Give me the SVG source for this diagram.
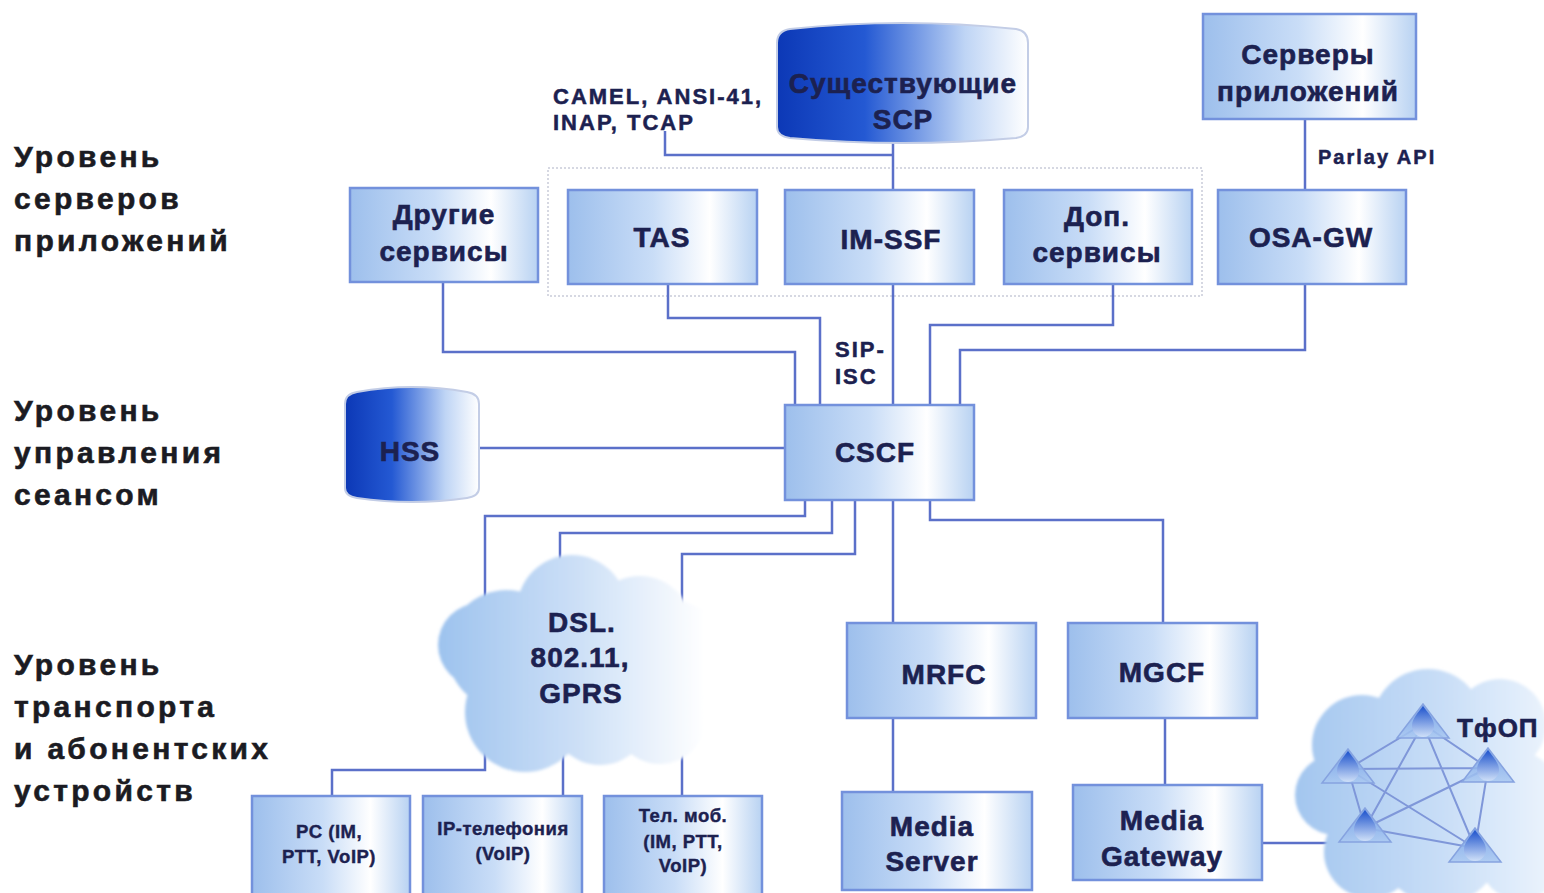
<svg xmlns="http://www.w3.org/2000/svg" xmlns:xlink="http://www.w3.org/1999/xlink" width="1544" height="893" viewBox="0 0 1544 893">
  <style>
    .lvl { font-family: "Liberation Sans", Arial, sans-serif; font-weight: bold; font-size: 30px; letter-spacing: 3.3px; fill: #1b1b22; stroke: #1b1b22; stroke-width: 0.6px; }
    .t { font-family: "Liberation Sans", Arial, sans-serif; font-weight: bold; font-size: 28px; letter-spacing: 1px; fill: #1c2150; stroke: #1c2150; stroke-width: 0.6px; text-anchor: middle; }
    .ts { font-family: "Liberation Sans", Arial, sans-serif; font-weight: bold; font-size: 18.5px; letter-spacing: 0.5px; fill: #1c2150; stroke: #1c2150; stroke-width: 0.4px; text-anchor: middle; }
    .lab { font-family: "Liberation Sans", Arial, sans-serif; font-weight: bold; font-size: 22px; letter-spacing: 2px; fill: #1c2150; stroke: #1c2150; stroke-width: 0.5px; }
    .box { fill: url(#boxGrad); stroke: #7391dc; stroke-width: 2.5; }
    .cyl { fill: url(#cylGrad); stroke: #c3cde6; stroke-width: 2; }
    .wire { fill: none; stroke: #5b70c9; stroke-width: 2.5; }
    .mesh { fill: none; stroke: #7f97d9; stroke-width: 2; }
    .group { fill: none; stroke: #c9ccd9; stroke-width: 1.5; stroke-dasharray: 2 2; }
  </style>
  <defs>
    <linearGradient id="boxGrad" x1="0" y1="0" x2="1" y2="0">
      <stop offset="0" stop-color="#9dbfec"/>
      <stop offset="0.45" stop-color="#c9ddf7"/>
      <stop offset="0.75" stop-color="#ffffff"/>
      <stop offset="1" stop-color="#b8d2f2"/>
    </linearGradient>
    <linearGradient id="cylGrad" x1="0" y1="0" x2="1" y2="0">
      <stop offset="0" stop-color="#0c38b6"/>
      <stop offset="0.35" stop-color="#2459d3"/>
      <stop offset="0.75" stop-color="#bfd5f5"/>
      <stop offset="1" stop-color="#ffffff"/>
    </linearGradient>
    <linearGradient id="cloudGrad" gradientUnits="userSpaceOnUse" x1="435" y1="0" x2="735" y2="0">
      <stop offset="0" stop-color="#9cc2ee"/>
      <stop offset="0.5" stop-color="#cfe1f7"/>
      <stop offset="0.9" stop-color="#ffffff"/>
    </linearGradient>
    <linearGradient id="pstnGrad" gradientUnits="userSpaceOnUse" x1="1295" y1="0" x2="1544" y2="0">
      <stop offset="0" stop-color="#a3c6ef"/>
      <stop offset="0.6" stop-color="#c9def7"/>
      <stop offset="1" stop-color="#e9f2fc"/>
    </linearGradient>
    <linearGradient id="triGrad" x1="0" y1="0" x2="0" y2="1">
      <stop offset="0" stop-color="#6f9be6"/>
      <stop offset="1" stop-color="#a9c8f1"/>
    </linearGradient>
    <linearGradient id="dropGrad" x1="0" y1="0" x2="0" y2="1">
      <stop offset="0" stop-color="#1d52cc"/>
      <stop offset="1" stop-color="#cfe0f8"/>
    </linearGradient>
    <filter id="soft" x="-10%" y="-10%" width="120%" height="120%">
      <feGaussianBlur stdDeviation="1.5"/>
    </filter>
    <!-- exchange node used inside the PSTN cloud -->
    <g id="exch">
      <polygon points="0,-34 -26,0 26,0" fill="url(#triGrad)" fill-opacity="0.85" stroke="#86a3e0" stroke-width="1.5"/>
      <path d="M0,-32 C4,-26 11,-20 11,-12 A11,11 0 0 1 -11,-12 C-11,-20 -4,-26 0,-32 Z" fill="url(#dropGrad)"/>
    </g>
  </defs>

  <rect width="1544" height="893" fill="#ffffff"/>

  <!-- layer captions -->
  <g id="levels">
    <text class="lvl" x="14" y="167">Уровень</text>
    <text class="lvl" x="14" y="209">серверов</text>
    <text class="lvl" x="14" y="251">приложений</text>
    <text class="lvl" x="14" y="421">Уровень</text>
    <text class="lvl" x="14" y="463">управления</text>
    <text class="lvl" x="14" y="505">сеансом</text>
    <text class="lvl" x="14" y="675">Уровень</text>
    <text class="lvl" x="14" y="717">транспорта</text>
    <text class="lvl" x="14" y="759">и абонентских</text>
    <text class="lvl" x="14" y="801">устройств</text>
  </g>

  <!-- dotted grouping frame -->
  <rect class="group" x="548" y="168" width="654" height="128"/>

  <!-- connectors -->
  <g id="connectors">
    <path class="wire" d="M893,143 V190"/>
    <path class="wire" d="M665,131 V155 H893"/>
    <path class="wire" d="M1305,119 V190"/>
    <path class="wire" d="M443,282 V352 H795 V405"/>
    <path class="wire" d="M668,284 V318 H820 V405"/>
    <path class="wire" d="M893,284 V405"/>
    <path class="wire" d="M1113,284 V325 H930 V405"/>
    <path class="wire" d="M1305,284 V350 H960 V405"/>
    <path class="wire" d="M479,448 H785"/>
    <path class="wire" d="M805,500 V516 H485 V770 H332 V795"/>
    <path class="wire" d="M832,500 V533 H560 V575"/>
    <path class="wire" d="M563,750 V795"/>
    <path class="wire" d="M855,500 V554 H682 V795"/>
    <path class="wire" d="M893,500 V623"/>
    <path class="wire" d="M930,500 V520 H1163 V623"/>
    <path class="wire" d="M893,718 V792"/>
    <path class="wire" d="M1165,718 V785"/>
    <path class="wire" d="M1262,843 H1340"/>
  </g>

  <!-- connector labels -->
  <g id="labels">
    <text class="lab" x="553" y="104">CAMEL, ANSI-41,</text>
    <text class="lab" x="553" y="130">INAP, TCAP</text>
    <text class="lab" x="1318" y="164" style="font-size:20px">Parlay API</text>
    <text class="lab" x="835" y="357">SIP-</text>
    <text class="lab" x="835" y="384">ISC</text>
  </g>

  <!-- application server layer -->
  <g id="scp">
    <path class="cyl" d="M790,29 Q903,17 1016,29 Q1028,31 1028,43 L1028,127 Q1028,136 1016,138 Q903,148 790,138 Q777,136 777,127 L777,43 Q777,31 790,29 Z"/>
    <text class="t" x="903" y="93">Существующие</text>
    <text class="t" x="903" y="129">SCP</text>
  </g>
  <g id="app-servers">
    <rect class="box" x="1203" y="14" width="213" height="105"/>
    <text class="t" x="1308" y="64">Серверы</text>
    <text class="t" x="1308" y="101">приложений</text>
  </g>
  <g id="other-services">
    <rect class="box" x="350" y="188" width="188" height="94"/>
    <text class="t" x="444" y="224">Другие</text>
    <text class="t" x="444" y="261">сервисы</text>
  </g>
  <g id="tas">
    <rect class="box" x="568" y="190" width="189" height="94"/>
    <text class="t" x="662" y="247">TAS</text>
  </g>
  <g id="im-ssf">
    <rect class="box" x="785" y="190" width="189" height="94"/>
    <text class="t" x="891" y="249">IM-SSF</text>
  </g>
  <g id="extra-services">
    <rect class="box" x="1004" y="190" width="188" height="94"/>
    <text class="t" x="1097" y="226">Доп.</text>
    <text class="t" x="1097" y="262">сервисы</text>
  </g>
  <g id="osa-gw">
    <rect class="box" x="1218" y="190" width="188" height="94"/>
    <text class="t" x="1311" y="247">OSA-GW</text>
  </g>

  <!-- session control layer -->
  <g id="hss">
    <path class="cyl" d="M357,392 Q412,382 467,392 Q479,394 479,404 L479,488 Q479,496 467,498 Q412,506 357,498 Q345,496 345,488 L345,404 Q345,394 357,392 Z"/>
    <text class="t" x="410" y="461">HSS</text>
  </g>
  <g id="cscf">
    <rect class="box" x="785" y="405" width="189" height="95"/>
    <text class="t" x="875" y="462">CSCF</text>
  </g>

  <!-- transport layer -->
  <g id="access-cloud">
    <g fill="url(#cloudGrad)" filter="url(#soft)">
      <circle cx="480" cy="645" r="42"/>
      <circle cx="507" cy="650" r="60"/>
      <circle cx="525" cy="712" r="60"/>
      <circle cx="572" cy="610" r="55"/>
      <circle cx="600" cy="715" r="50"/>
      <circle cx="640" cy="628" r="52"/>
      <circle cx="670" cy="656" r="56"/>
      <circle cx="692" cy="650" r="43"/>
      <circle cx="660" cy="718" r="46"/>
      <circle cx="580" cy="665" r="70"/>
    </g>
    <text class="t" x="582" y="632">DSL.</text>
    <text class="t" x="580" y="667">802.11,</text>
    <text class="t" x="581" y="703">GPRS</text>
  </g>
  <g id="mrfc">
    <rect class="box" x="847" y="623" width="189" height="95"/>
    <text class="t" x="944" y="684">MRFC</text>
  </g>
  <g id="mgcf">
    <rect class="box" x="1068" y="623" width="189" height="95"/>
    <text class="t" x="1162" y="682">MGCF</text>
  </g>
  <g id="media-server">
    <rect class="box" x="842" y="792" width="190" height="98"/>
    <text class="t" x="932" y="836">Media</text>
    <text class="t" x="932" y="871">Server</text>
  </g>
  <g id="media-gateway">
    <rect class="box" x="1073" y="785" width="189" height="95"/>
    <text class="t" x="1162" y="830">Media</text>
    <text class="t" x="1162" y="866">Gateway</text>
  </g>
  <g id="pc">
    <rect class="box" x="252" y="796" width="158" height="100"/>
    <text class="ts" x="329" y="838">PC (IM,</text>
    <text class="ts" x="329" y="863">PTT, VoIP)</text>
  </g>
  <g id="ip-phone">
    <rect class="box" x="423" y="796" width="159" height="100"/>
    <text class="ts" x="503" y="835">IP-телефония</text>
    <text class="ts" x="503" y="860">(VoIP)</text>
  </g>
  <g id="mobile">
    <rect class="box" x="604" y="796" width="158" height="100"/>
    <text class="ts" x="683" y="822">Тел. моб.</text>
    <text class="ts" x="683" y="848">(IM, PTT,</text>
    <text class="ts" x="683" y="872">VoIP)</text>
  </g>

  <!-- PSTN cloud with meshed exchanges -->
  <g id="pstn">
    <g fill="url(#pstnGrad)" filter="url(#soft)">
      <circle cx="1335" cy="795" r="40"/>
      <circle cx="1362" cy="745" r="50"/>
      <circle cx="1428" cy="725" r="56"/>
      <circle cx="1500" cy="725" r="46"/>
      <circle cx="1512" cy="800" r="50"/>
      <circle cx="1440" cy="842" r="62"/>
      <circle cx="1370" cy="852" r="46"/>
      <circle cx="1425" cy="790" r="70"/>
      <circle cx="1520" cy="860" r="40"/>
    </g>
    <g class="mesh">
      <path d="M1423,724 L1348,769 M1423,724 L1488,768 M1423,724 L1365,828 M1423,724 L1475,848 M1348,769 L1488,768 M1348,769 L1365,828 M1348,769 L1475,848 M1488,768 L1365,828 M1488,768 L1475,848 M1365,828 L1475,848"/>
    </g>
    <use xlink:href="#exch" x="1423" y="738"/>
    <use xlink:href="#exch" x="1348" y="783"/>
    <use xlink:href="#exch" x="1488" y="782"/>
    <use xlink:href="#exch" x="1365" y="842"/>
    <use xlink:href="#exch" x="1475" y="862"/>
    <text class="t" x="1457" y="737" style="text-anchor:start;font-size:26px">ТфОП</text>
  </g>
</svg>
